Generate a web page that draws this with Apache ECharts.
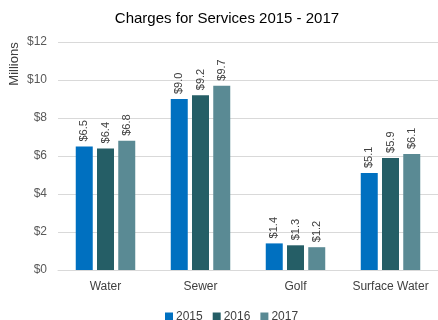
<!DOCTYPE html>
<html>
<head>
<meta charset="utf-8">
<script src="https://cdn.jsdelivr.net/npm/echarts@6/dist/echarts.min.js"></script>
<style>
  html, body { margin: 0; padding: 0; background: #fff; }
  #chart { width: 438px; height: 320px; }
</style>
</head>
<body>
<div id="chart"></div>
<script>
// 数据
const categories = ['Water', 'Sewer', 'Golf', 'Surface Water']
const years = ['2015', '2016', '2017']
const values2015 = [6.5, 9.0, 1.4, 5.1]
const values2016 = [6.4, 9.2, 1.3, 5.9]
const values2017 = [6.8, 9.7, 1.2, 6.1]
const yTicks = [0, 2, 4, 6, 8, 10, 12]

const colors = ['#0070C0', '#255E66', '#5A8A94']
const font = 'Liberation Sans, Arial, sans-serif'

let myChart = echarts.init(document.getElementById('chart'))

function makeSeries(name, data, color) {
  return {
    name: name,
    type: 'bar',
    data: data,
    barWidth: 17,
    barGap: '25%',
    itemStyle: { color: color },
    label: {
      show: true,
      position: 'top',
      rotate: 90,
      align: 'left',
      verticalAlign: 'middle',
      distance: 5,
      color: '#404040',
      fontSize: 11,
      fontFamily: font,
      formatter: (p) => '$' + p.value.toFixed(1)
    }
  }
}

let option = {
  animation: false,
  title: {
    text: 'Charges for Services 2015 - 2017',
    left: 222,
    textAlign: 'center',
    top: 6,
    textStyle: { fontSize: 15, fontWeight: 'normal', color: '#000', fontFamily: font }
  },
  legend: {
    data: years,
    left: 160,
    top: 306,
    itemWidth: 8,
    itemHeight: 9,
    itemGap: 10,
    icon: 'rect',
    textStyle: { fontSize: 12, color: '#404040', fontFamily: font, padding: [0, 0, 0, -2] }
  },
  graphic: [{
    type: 'text',
    x: 14,
    y: 64,
    rotation: Math.PI / 2,
    style: {
      text: 'Millions',
      fontSize: 13,
      fill: '#404040',
      fontFamily: font,
      align: 'center',
      verticalAlign: 'middle'
    }
  }],
  grid: { left: 58, top: 42, width: 386, height: 228, containLabel: false },
  xAxis: {
    type: 'category',
    data: categories,
    axisTick: { show: false },
    axisLine: { lineStyle: { color: '#d9d9d9' } },
    axisLabel: { interval: 0, hideOverlap: false, color: '#404040', fontSize: 12, margin: 11, fontFamily: font }
  },
  yAxis: {
    type: 'value',
    min: yTicks[0],
    max: yTicks[yTicks.length - 1],
    interval: 2,
    axisLabel: { color: '#595959', fontSize: 12, margin: 11, fontFamily: font, formatter: (v) => '$' + v },
    splitLine: { lineStyle: { color: '#d9d9d9' } }
  },
  series: [
    makeSeries(years[0], values2015, colors[0]),
    makeSeries(years[1], values2016, colors[1]),
    makeSeries(years[2], values2017, colors[2])
  ]
}
myChart.setOption(option)
</script>
</body>
</html>
